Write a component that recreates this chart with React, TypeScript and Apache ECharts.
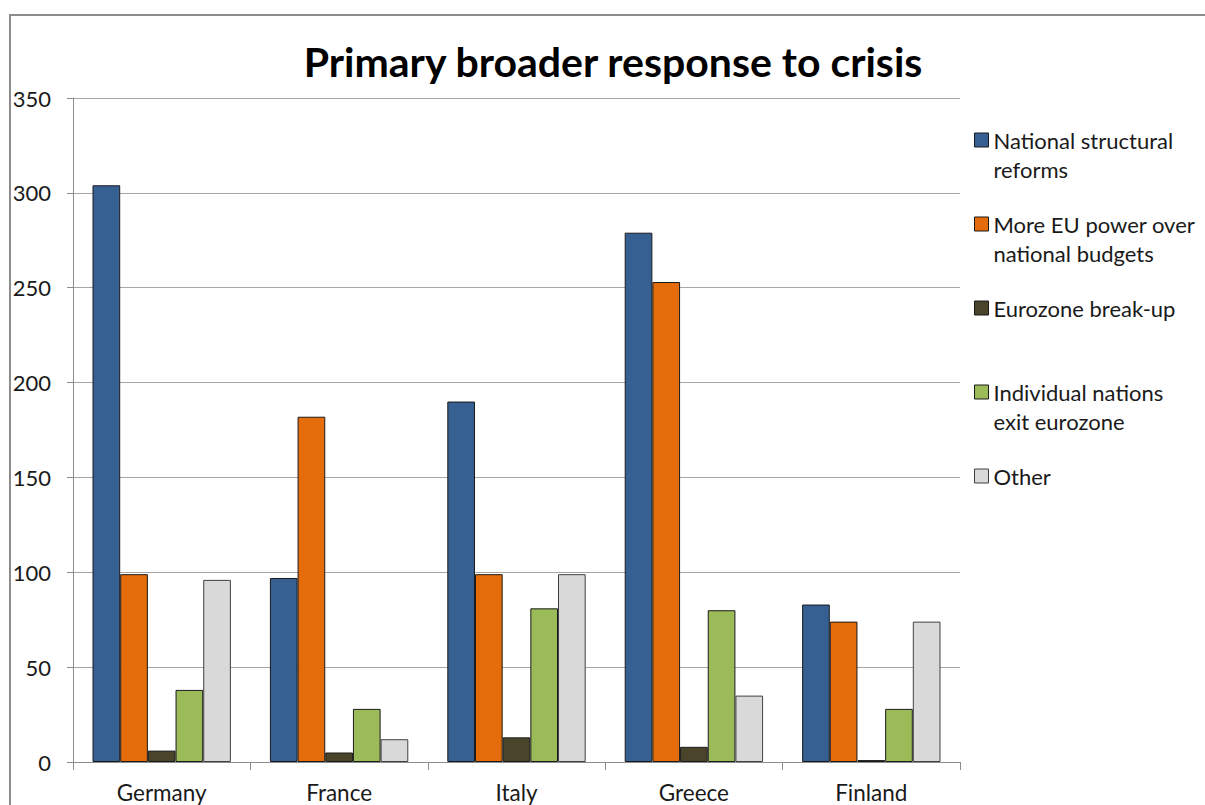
import React, { useEffect, useRef } from "react";
import * as echarts from "echarts";

const categories = ["Germany", "France", "Italy", "Greece", "Finland"];
const seriesNames = [
  "National structural\nreforms",
  "More EU power over\nnational budgets",
  "Eurozone break-up",
  "Individual nations\nexit eurozone",
  "Other",
];
const nationalReforms = [304, 97, 190, 279, 83];
const euPower = [99, 182, 99, 253, 74];
const breakUp = [6, 5, 13, 8, 1];
const nationsExit = [38, 28, 81, 80, 28];
const other = [96, 12, 99, 35, 74];
const colors = ["#376092", "#E46C0A", "#4A452A", "#9BBB59", "#D9D9D9"];
const yTicks = [0, 50, 100, 150, 200, 250, 300, 350];

const FONT = "Lato, 'Open Sans', sans-serif";

export default function App() {
  const ref = useRef<HTMLDivElement>(null);
  useEffect(() => {
    if (!ref.current) return;
    const chart = echarts.init(ref.current, null, { renderer: "svg" });
    const values = [nationalReforms, euPower, breakUp, nationsExit, other];
    const iconCenters = [140, 224, 308, 392, 476];
    const LH = 29;
    const legends = seriesNames.map((name, i) => {
      const multi = name.includes("\n");
      return {
        data: [name],
        left: 974,
        top: iconCenters[i] - LH / 2,
        orient: "vertical",
        padding: 0,
        itemWidth: 14,
        itemHeight: multi ? 14 + LH : 14,
        itemGap: 0,
        selectedMode: false,
        icon: multi ? "path://M0,0L14,0L14,14L0,14ZM0,43L0,43" : "rect",
        itemStyle: { borderColor: i === 4 ? "#404040" : "#1a1a1a", borderWidth: 1 },
        textStyle: {
          fontFamily: FONT,
          fontSize: 22,
          color: "#1a1a1a",
          lineHeight: LH,
        },
      };
    });
    chart.setOption({
      animation: false,
      backgroundColor: "#ffffff",
      title: {
        text: "Primary broader response to crisis",
        left: 608,
        top: 36,
        textAlign: "center",
        textStyle: {
          fontFamily: FONT,
          fontSize: 41,
          fontWeight: "bold",
          color: "#000000",
        },
      },
      graphic: [
        {
          type: "rect",
          shape: { x: 10, y: 15, width: 1300, height: 900 },
          style: { fill: "none", stroke: "#8c8c8c", lineWidth: 2 },
          silent: true,
        },
      ],
      legend: legends,
      grid: { left: 73, right: 245, top: 98, bottom: 43, containLabel: false },
      xAxis: {
        type: "category",
        data: categories,
        axisLine: { show: true, lineStyle: { color: "#8c8c8c", width: 1 } },
        axisTick: { show: true, length: 8, lineStyle: { color: "#8c8c8c" } },
        axisLabel: {
          fontFamily: FONT,
          fontSize: 22.5,
          color: "#1a1a1a",
          margin: 19,
        },
      },
      yAxis: {
        type: "value",
        min: 0,
        max: 350,
        interval: 50,
        axisLine: { show: true, lineStyle: { color: "#8c8c8c", width: 1 } },
        axisTick: { show: true, length: 6, lineStyle: { color: "#8c8c8c" } },
        splitLine: { show: true, lineStyle: { color: "#a6a6a6", width: 1 } },
        axisLabel: {
          fontFamily: FONT,
          fontSize: 22,
          color: "#1a1a1a",
          margin: 22,
          formatter: (v: number) => (yTicks.includes(v) ? String(v) : ""),
        },
      },
      series: values.map((data, i) => ({
        type: "bar",
        name: seriesNames[i],
        data,
        barGap: "0%",
        barCategoryGap: "22%",
        itemStyle: {
          color: colors[i],
          borderColor: i === 4 ? "#404040" : "#1a1a1a",
          borderWidth: 1,
        },
      })),
    });
    return () => chart.dispose();
  }, []);
  return (
    <div
      ref={ref}
      style={{ position: "fixed", left: 0, top: 0, width: 1205, height: 805 }}
    />
  );
}
